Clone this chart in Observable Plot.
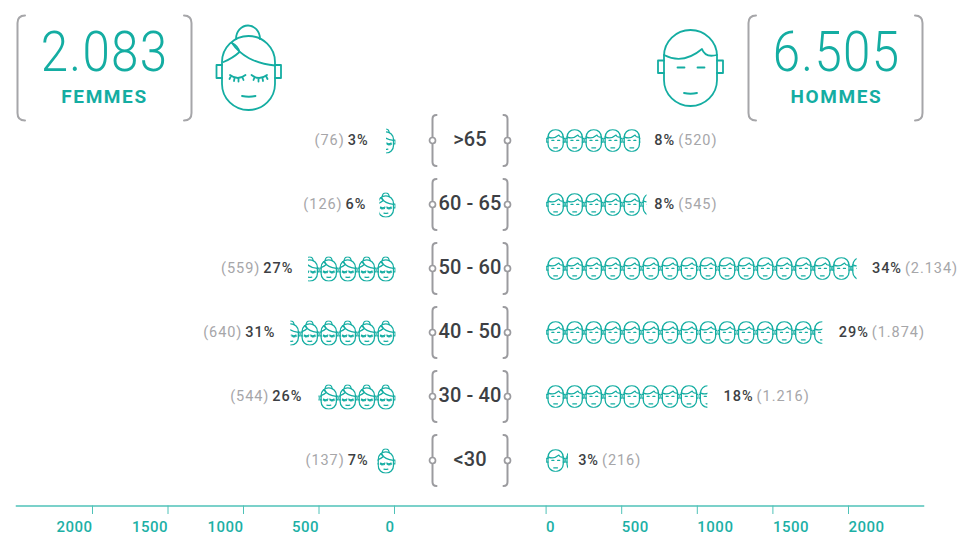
<!DOCTYPE html>
<html lang="fr">
<head>
<meta charset="utf-8">
<script src="https://cdn.jsdelivr.net/npm/d3@7"></script>
<script src="https://cdn.jsdelivr.net/npm/@observablehq/plot@0.6"></script>
<style>
  html, body { margin: 0; padding: 0; background: #fff; }
  #chart { position: relative; width: 959px; height: 535px; overflow: hidden; font-family: Roboto, sans-serif; }
  #chart > svg { position: absolute; left: 0; top: 0; }
  .big { position: absolute; text-align: center; color: #14ada2; font-weight: 300; font-size: 56px; line-height: 56px; letter-spacing: 1.5px; transform: scaleX(0.88); }
  .sub { position: absolute; text-align: center; color: #14ada2; font-weight: 700; font-size: 19px; line-height: 20px; letter-spacing: 1.6px; }
</style>
</head>
<body>
<div id="chart">
  <svg width="959" height="535" fill="none" stroke-linecap="round" stroke-linejoin="round">
    <g stroke="#a6a6a9" stroke-width="2">
      <path d="M25 15.5Q17.5 15.5 17.5 23V113Q17.5 120.5 25 120.5"/>
      <path d="M184 15.5Q191.5 15.5 191.5 23V113Q191.5 120.5 184 120.5"/>
      <path d="M756 15.5Q748.5 15.5 748.5 23V113Q748.5 120.5 756 120.5"/>
      <path d="M915 15.5Q922.5 15.5 922.5 23V113Q922.5 120.5 915 120.5"/>
    </g>
    <g id="bigF" stroke="#14ada2" stroke-width="1.8"></g>
    <g id="bigM" stroke="#14ada2" stroke-width="1.8"></g>
  </svg>
  <div class="big" style="left:17px;width:175px;top:24px">2.083</div>
  <div class="sub" style="left:17px;width:175px;top:87px">FEMMES</div>
  <div class="big" style="left:749px;width:175px;top:24px">6.505</div>
  <div class="sub" style="left:749px;width:175px;top:87px">HOMMES</div>
</div>
<script>
// ---- values ----
const ages = [">65", "60 - 65", "50 - 60", "40 - 50", "30 - 40", "<30"];
const femmesPct = ["3%", "6%", "27%", "31%", "26%", "7%"];
const femmesCount = ["(76)", "(126)", "(559)", "(640)", "(544)", "(137)"];
const hommesPct = ["8%", "8%", "34%", "29%", "18%", "3%"];
const hommesCount = ["(520)", "(545)", "(2.134)", "(1.874)", "(1.216)", "(216)"];
// number of faces drawn on each row (last one cut)
const femmesFaces = [0.52, 0.85, 4.6, 5.53, 4.05, 0.95];
const hommesFaces = [4.95, 5.27, 16.3, 14.5, 8.47, 1.15];
// where each row's label sits, in axis units
const femmesLabelAt = [172, 186, 670, 789, 610, 172];
const hommesLabelAt = [716, 716, 2155, 1936, 1174, 212];
const axisTicks = [0, 500, 1000, 1500, 2000];
const unitsPerFace = 126;
const faceWidth = 19;

const teal = "#14ada2", gray = "#a6a6a9", dark = "#3d3f44", axisTeal = "#4fc2b8";

// ---- face drawings ----
const femalePaths = `
<path d="M222 62a26.5 26 0 0 1 53 0V84a26.5 26 0 0 1-53 0Z"/>
<path d="M236 39a12 13.5 0 0 1 24 0"/>
<path d="M222 65H216.5V78H222M275 65H281V78H275"/>
<path d="M232 43C240 55 255 64 275 65.500"/>
<path d="M232 43Q238 46 239.500 52Q233 58 223.500 62"/>
<path d="M230 75Q238 81 245.500 75M231 76L229.500 79M234.500 78L234 81M238.500 78.500V81.500M242.500 77.500L243.500 80"/>
<path d="M251.500 75Q259 81 267 75M266 76L267.500 79M262.500 78L263 81M258.500 78.500V81.500M254.500 77.500L253.500 80"/>
<path d="M242 96Q249 97.500 255.500 96"/>`;
const malePaths = `
<path d="M664 56a26.500 26 0 0 1 53 0V80a26.500 26 0 0 1-53 0Z"/>
<path d="M664 60.500H658V73H664M717 60.500H723V73H717"/>
<path d="M664 55Q683 65 702 49Q705 58 717 55"/>
<path d="M677.500 67.500H684.500M697.500 67.500H704.500"/>
<path d="M684 93Q690.500 94.500 697 93"/>`;
document.getElementById("bigF").innerHTML = femalePaths;
document.getElementById("bigM").innerHTML = malePaths;

const tiles = {
  f: { paths: femalePaths, x: 216, y: 24.5, w: 66, h: 86.5, sw: 4.4 },
  m: { paths: malePaths, x: 657.5, y: 29, w: 66, h: 77.5, sw: 4.4 }
};
const pxHeight = t => t.h * faceWidth / t.w;
function sprite(kind, frac) {
  const t = tiles[kind], w = t.w * frac;
  const x0 = kind === "f" ? t.x + t.w - w : t.x;
  const s = `<svg xmlns="http://www.w3.org/2000/svg" viewBox="${x0} ${t.y} ${w} ${t.h}" width="${faceWidth * frac}" height="${pxHeight(t)}" fill="none" stroke="${teal}" stroke-width="${t.sw}" stroke-linecap="round" stroke-linejoin="round">${t.paths}</svg>`;
  return "data:image/svg+xml," + encodeURIComponent(s);
}
const bracketSprite = "data:image/svg+xml," + encodeURIComponent(
  `<svg xmlns="http://www.w3.org/2000/svg" viewBox="0 0 90 56" width="90" height="56" fill="none" stroke="#9b9b9f" stroke-width="2" stroke-linecap="round">
   <path d="M11.500 2.500Q7.500 2.500 7.500 6.500V49.500Q7.500 53.500 11.500 53.500"/>
   <path d="M78.500 2.500Q82.500 2.500 82.500 6.500V49.500Q82.500 53.500 78.500 53.500"/>
   <circle cx="7.500" cy="28" r="3" fill="#fff" stroke-width="1.700"/><circle cx="82.500" cy="28" r="3" fill="#fff" stroke-width="1.700"/></svg>`);

// ---- rows ----
function faceRows(counts, kind) {
  return ages.flatMap((age, r) => {
    const out = [], n = counts[r];
    for (let k = 0; k < n; k++) {
      const frac = Math.min(1, n - k);
      out.push({ age, value: (k + frac / 2) * unitsPerFace, frac, kind });
    }
    return out;
  });
}
const rowsF = ages.map((age, i) => ({ age, at: femmesLabelAt[i], main: femmesPct[i], extra: femmesCount[i] }));
const rowsH = ages.map((age, i) => ({ age, at: hommesLabelAt[i], main: hommesPct[i], extra: hommesCount[i] }));

// two-tone label: one text element, two tspans
function twoTone(first) {
  return function (index, scales, values, dims, ctx, next) {
    const g = next(index, scales, values, dims, ctx);
    const data = first === "extra" ? rowsF : rowsH;
    g.querySelectorAll("text").forEach((el, j) => {
      const d = data[index[j]];
      el.textContent = "";
      el.style.letterSpacing = "0.95px";
      const parts = first === "extra" ? [[d.extra, gray, 400], [d.main, dark, 500]] : [[d.main, dark, 500], [d.extra, gray, 400]];
      parts.forEach(([txt, col, w], p) => {
        const t = document.createElementNS("http://www.w3.org/2000/svg", "tspan");
        t.textContent = txt;
        t.setAttribute("fill", col);
        t.setAttribute("font-weight", w);
        if (p === 1) t.setAttribute("dx", "3");
        el.appendChild(t);
      });
    });
    return g;
  };
}
function tightAges(index, scales, values, dims, ctx, next) {
  const g = next(index, scales, values, dims, ctx);
  g.querySelectorAll("text").forEach(el => { el.style.letterSpacing = "0.1px"; });
  return g;
}

const yScale = { type: "point", domain: ages, range: [139, 460.5], padding: 0, axis: null };
const base = {
  width: 959, height: 535, marginTop: 0, marginLeft: 16, marginRight: 36, marginBottom: 29.5,
  style: { background: "transparent", fontFamily: "Roboto, sans-serif", overflow: "visible", letterSpacing: "0.5px" }
};
const axisOpts = {
  ticks: axisTicks, tickFormat: d => String(d), tickSize: 8.5, tickPadding: 7, stroke: axisTeal,
  fill: "#1cb0a6", fontSize: 15, fontWeight: 500, lineAnchor: "top"
};

const left = Plot.plot({
  ...base,
  x: { domain: [0, 2000], range: [394, 92], axis: null },
  y: yScale,
  marks: [
    Plot.frame({ anchor: "bottom", stroke: axisTeal, strokeWidth: 1.5 }),
    Plot.axisX({ ...axisOpts, anchor: "bottom", textAnchor: "end" }),
    Plot.image(faceRows(femmesFaces, "f"), {
      x: "value", y: "age", dx: 1, dy: 0.5,
      src: d => sprite("f", d.frac), width: d => faceWidth * d.frac, height: pxHeight(tiles.f)
    }),
    Plot.text(rowsF, {
      x: "at", y: "age", dy: -0.5, text: "main", textAnchor: "end", fontSize: 14.5,
      render: twoTone("extra")
    })
  ]
});

const right = Plot.plot({
  ...base,
  x: { domain: [0, 2000], range: [545.6, 848], axis: null },
  y: yScale,
  marks: [
    Plot.axisX({ ...axisOpts, anchor: "bottom", textAnchor: "start" }),
    Plot.image(faceRows(hommesFaces, "m"), {
      x: "value", y: "age",
      src: d => sprite("m", d.frac), width: d => faceWidth * d.frac, height: pxHeight(tiles.m)
    }),
    Plot.text(rowsH, {
      x: "at", y: "age", dy: -0.5, text: "main", textAnchor: "start", fontSize: 14.5,
      render: twoTone("main")
    }),
    Plot.image(ages, { y: d => d, frameAnchor: "middle", src: () => bracketSprite, width: 90, height: 56 }),
    Plot.text(ages, { y: d => d, dy: -0.5, text: d => d, frameAnchor: "middle", fontSize: 20, fontWeight: 500, fill: dark, render: tightAges })
  ]
});

const chart = document.getElementById("chart");
chart.appendChild(left);
chart.appendChild(right);
</script>
</body>
</html>
